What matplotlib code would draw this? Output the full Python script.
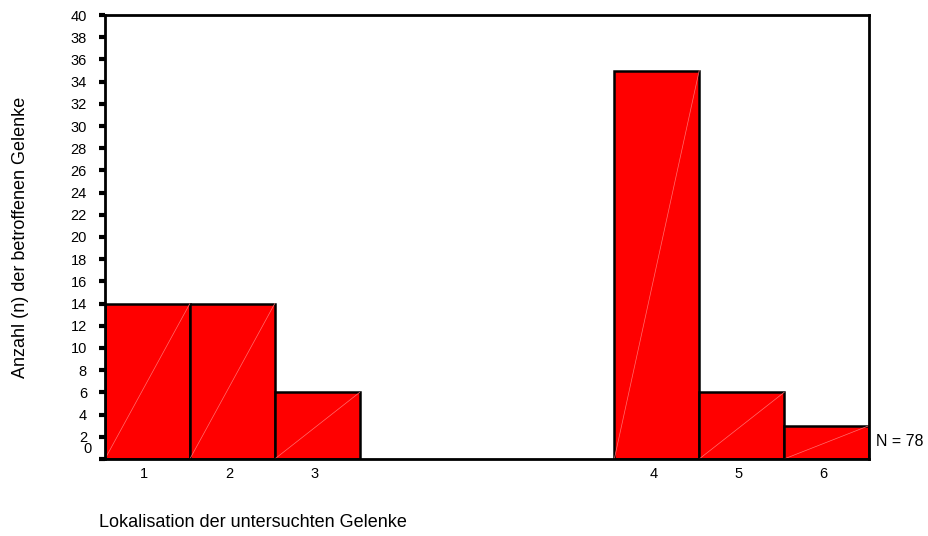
import matplotlib.pyplot as plt
import matplotlib.transforms as mtransforms
import numpy as np

plt.rcParams['font.family'] = ['Liberation Sans', 'DejaVu Sans']

# data
labels = ['1', '2', '3', '4', '5', '6']
slots = [0, 1, 2, 6, 7, 8]          # positions on the x axis (gap between 3 and 4)
counts = [14, 14, 6, 35, 6, 3]
total_text = 'N = 78'
yticks = list(range(0, 41, 2))

fig = plt.figure(figsize=(9.29, 5.36), dpi=100)
ax = fig.add_axes([0.113, 0.1437, 0.8224, 0.8283])

x = np.array(slots) + 0.5
ax.bar(x, counts, width=1.0, color='#ff0000', edgecolor='black', linewidth=1.8)

# thin light diagonal inside each bar
for xi, c in zip(x, counts):
    ax.plot([xi - 0.5, xi + 0.5], [0, c], color='#ff7070', linewidth=0.5)

ax.set_xlim(0, 9)
ax.set_ylim(0, 40)

for s in ax.spines.values():
    s.set_linewidth(2)
    s.set_color('black')

ax.set_yticks(yticks)
ax.set_yticklabels([''] + [str(t) for t in yticks[1:]], fontsize=10.5)
ax.tick_params(axis='y', direction='out', length=4, width=3, pad=9)
# the zero label sits a bit above the axis line
ax.annotate('0', xy=(0, 0), xycoords='data', xytext=(-13, 10),
            textcoords='offset pixels', ha='right', va='center', fontsize=10.5)

ax.set_xticks(x)
ax.set_xticklabels(labels, fontsize=10.5)
ax.tick_params(axis='x', length=0, pad=6)
offset = mtransforms.ScaledTranslation(-3 / 100, 0, fig.dpi_scale_trans)
for lab in ax.get_xticklabels():
    lab.set_transform(lab.get_transform() + offset)

ax.text(9.08, 1.6, total_text, fontsize=11.5, ha='left', va='center')

fig.text(0.022, 0.558, 'Anzahl (n) der betroffenen Gelenke', rotation=90,
         ha='center', va='center', fontsize=13)
fig.text(0.107, 0.026, 'Lokalisation der untersuchten Gelenke',
         ha='left', va='center', fontsize=13)

fig.savefig('out.png', dpi=100)
